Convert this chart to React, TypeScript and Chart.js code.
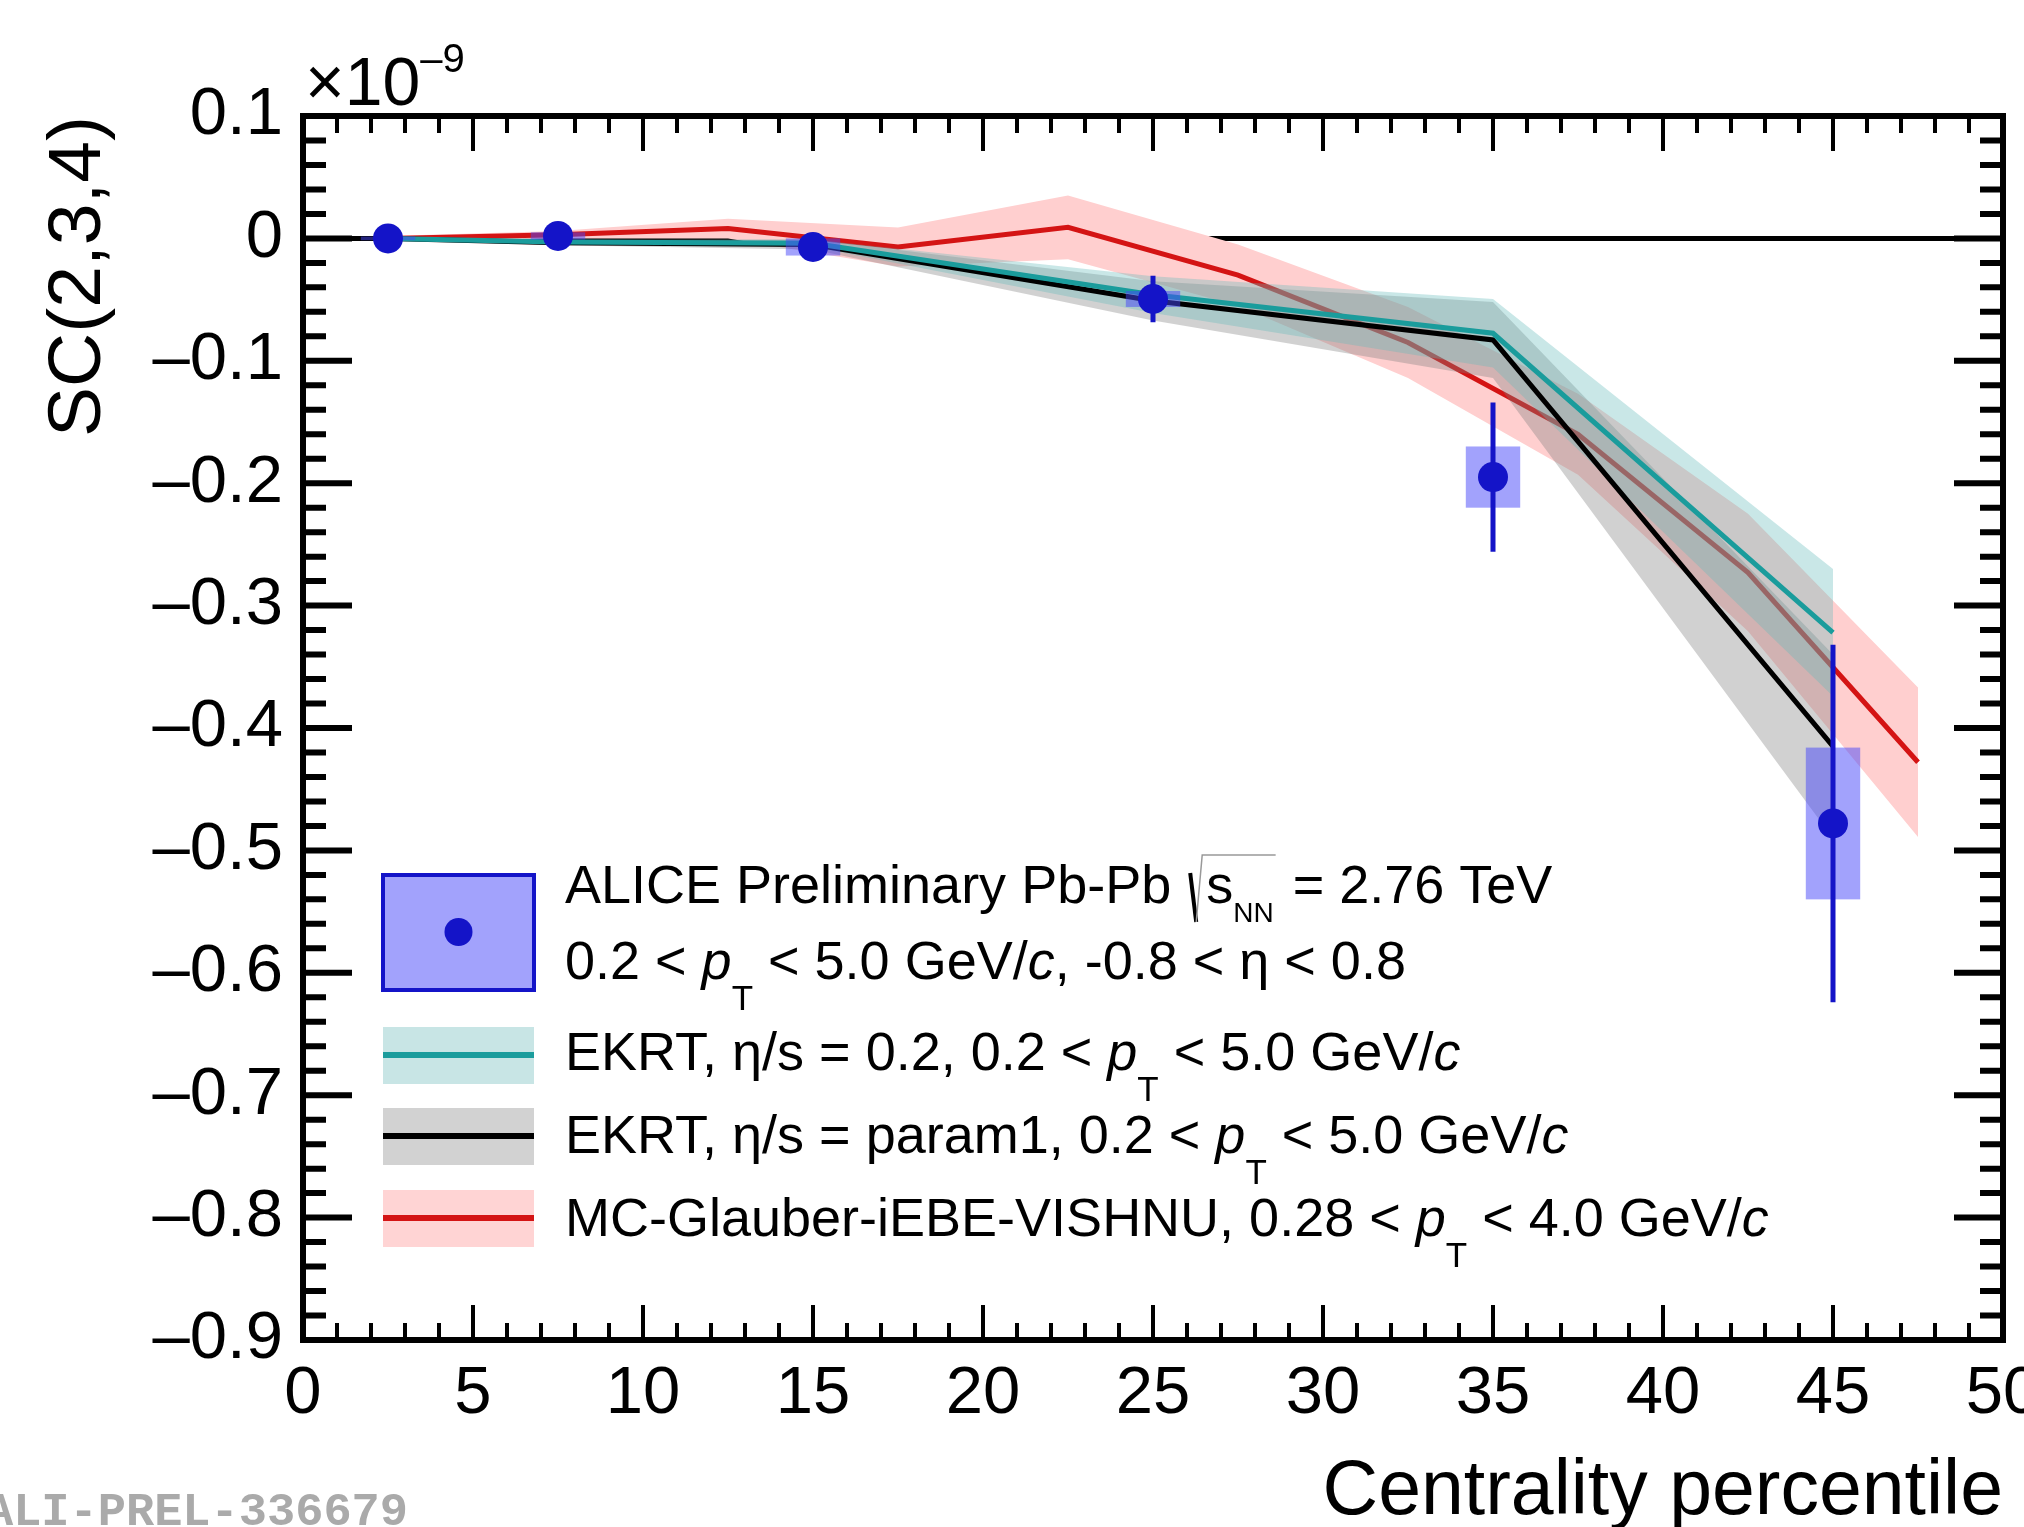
import React, { useEffect, useRef } from 'react';
import { Chart, registerables } from 'chart.js';

Chart.register(...registerables);

const W = 2024;
const H = 1527;
const FONT = '"Liberation Sans", Arial, Helvetica, sans-serif';

// ---- tick labels ----
const xTickValues = [0, 5, 10, 15, 20, 25, 30, 35, 40, 45, 50];
const yTickValues = [0.1, 0, -0.1, -0.2, -0.3, -0.4, -0.5, -0.6, -0.7, -0.8, -0.9];

// ---- ALICE Preliminary, SC(2,3,4) in units of 1e-9 ----
const aliceCentrality = [2.5, 7.5, 15, 25, 35, 45];
const aliceSC = [0.0, 0.002, -0.007, -0.0495, -0.195, -0.478];
const aliceStat = [0.001, 0.002, 0.003, 0.019, 0.061, 0.146];
const aliceSyst = [0.0015, 0.003, 0.007, 0.0065, 0.025, 0.062];
const aliceBinHalf = [0.8, 0.8, 0.8, 0.8, 0.8, 0.8];

// ---- EKRT ----
const ekrtCentrality = [2.5, 7.5, 15, 25, 35, 45];
const ekrt02 = [0.0, -0.003, -0.004, -0.046, -0.0775, -0.322];
const ekrt02Err = [0.001, 0.002, 0.003, 0.015, 0.028, 0.052];
const ekrtParam1 = [0.0, -0.0035, -0.005, -0.051, -0.083, -0.415];
const ekrtParam1Err = [0.001, 0.002, 0.004, 0.016, 0.031, 0.075];

// ---- MC-Glauber-iEBE-VISHNU ----
const vishnuCentrality = [2.5, 7.5, 12.5, 17.5, 22.5, 27.5, 32.5, 37.5, 42.5, 47.5];
const vishnu = [0.0, 0.003, 0.008, -0.007, 0.009, -0.03, -0.085, -0.16, -0.273, -0.428];
const vishnuErr = [0.002, 0.003, 0.008, 0.016, 0.026, 0.025, 0.029, 0.033, 0.048, 0.061];

// ---- colours ----
const BLUE = '#1414c8';
const SYS_FILL = 'rgba(70,70,250,0.5)';
const TEAL = '#1a9c9c';
const TEAL_BAND = 'rgba(100,185,185,0.35)';
const GRAY_BAND = 'rgba(128,128,128,0.36)';
const RED = '#d41414';
const PINK_BAND = 'rgb(255,207,207)';

const pts = (xs: number[], ys: number[]) => xs.map((x, i) => ({ x, y: ys[i] }));
const shifted = (ys: number[], es: number[], s: number) => ys.map((v, i) => v + s * es[i]);

type Seg = { t: string; it?: boolean; size?: number; dy?: number; sqrtStart?: boolean; sqrtEnd?: boolean };

function drawRich(ctx: CanvasRenderingContext2D, x: number, y: number, segs: Seg[], size: number) {
  let cx = x;
  let sqrtX = 0;
  ctx.textAlign = 'left';
  ctx.textBaseline = 'alphabetic';
  ctx.fillStyle = '#000';
  for (const s of segs) {
    if (s.sqrtStart) {
      sqrtX = cx + 4;
      cx += 20;
    }
    const fs = s.size ?? size;
    ctx.font = `${s.it ? 'italic ' : ''}${fs}px ${FONT}`;
    ctx.fillText(s.t, cx, y + (s.dy ?? 0));
    cx += ctx.measureText(s.t).width;
    if (s.sqrtEnd) {
      ctx.save();
      ctx.strokeStyle = '#000';
      ctx.lineWidth = 4;
      ctx.beginPath();
      ctx.moveTo(sqrtX, y - 30);
      ctx.lineTo(sqrtX + 6, y + 19);
      ctx.stroke();
      ctx.lineWidth = 1.5;
      ctx.strokeStyle = '#999';
      ctx.beginPath();
      ctx.moveTo(sqrtX + 6, y + 19);
      ctx.lineTo(sqrtX + 12, y - 48);
      ctx.lineTo(cx + 2, y - 48);
      ctx.stroke();
      ctx.restore();
      cx += 4;
    }
  }
  return cx;
}

const pT = (pre: string, post: string): Seg[] => [
  { t: pre },
  { t: 'p', it: true },
  { t: 'T', size: 35, dy: 31 },
  { t: post },
  { t: 'c', it: true },
];

const legendLines: { y: number; segs: Seg[] }[] = [
  {
    y: 903,
    segs: [
      { t: 'ALICE Preliminary Pb-Pb ' },
      { t: 's', sqrtStart: true },
      { t: 'NN', size: 28, dy: 19, sqrtEnd: true },
      { t: ' = 2.76 TeV' },
    ],
  },
  { y: 979, segs: [...pT('0.2 < ', ' < 5.0 GeV/'), { t: ', -0.8 < η < 0.8' }] },
  { y: 1070, segs: pT('EKRT, η/s = 0.2, 0.2 < ', ' < 5.0 GeV/') },
  { y: 1153, segs: pT('EKRT, η/s = param1, 0.2 < ', ' < 5.0 GeV/') },
  { y: 1236, segs: pT('MC-Glauber-iEBE-VISHNU, 0.28 < ', ' < 4.0 GeV/') },
];

const rootStyle = {
  id: 'rootStyle',
  beforeDatasetDraw(chart: any, args: any) {
    if (args.index !== 0) return;
    const { ctx } = chart;
    const xs = chart.scales.x;
    const ys = chart.scales.y;
    ctx.save();
    ctx.fillStyle = SYS_FILL;
    aliceCentrality.forEach((c, i) => {
      const x0 = xs.getPixelForValue(c - aliceBinHalf[i]);
      const x1 = xs.getPixelForValue(c + aliceBinHalf[i]);
      const y0 = ys.getPixelForValue(aliceSC[i] + aliceSyst[i]);
      const y1 = ys.getPixelForValue(aliceSC[i] - aliceSyst[i]);
      ctx.fillRect(x0, y0, x1 - x0, y1 - y0);
    });
    ctx.strokeStyle = BLUE;
    ctx.lineWidth = 5;
    aliceCentrality.forEach((c, i) => {
      const px = xs.getPixelForValue(c);
      ctx.beginPath();
      ctx.moveTo(px, ys.getPixelForValue(aliceSC[i] + aliceStat[i]));
      ctx.lineTo(px, ys.getPixelForValue(aliceSC[i] - aliceStat[i]));
      ctx.stroke();
    });
    ctx.restore();
  },
  afterDraw(chart: any) {
    const { ctx, chartArea: a } = chart;
    const xs = chart.scales.x;
    const ys = chart.scales.y;
    ctx.save();
    // ticks (inward, all four sides)
    ctx.strokeStyle = '#000';
    ctx.lineCap = 'butt';
    ctx.lineWidth = 4;
    for (let k = 0; k <= 50; k++) {
      const px = xs.getPixelForValue(k);
      const len = k % 5 === 0 ? 35 : 17;
      ctx.beginPath();
      ctx.moveTo(px, a.bottom);
      ctx.lineTo(px, a.bottom - len);
      ctx.moveTo(px, a.top);
      ctx.lineTo(px, a.top + len);
      ctx.stroke();
    }
    ctx.lineWidth = 6;
    for (let k = -45; k <= 5; k++) {
      const py = ys.getPixelForValue(k * 0.02);
      const len = k % 5 === 0 ? 49 : 23;
      ctx.beginPath();
      ctx.moveTo(a.left, py);
      ctx.lineTo(a.left + len, py);
      ctx.moveTo(a.right, py);
      ctx.lineTo(a.right - len, py);
      ctx.stroke();
    }
    // frame
    ctx.lineWidth = 6;
    ctx.strokeRect(a.left, a.top, a.right - a.left, a.bottom - a.top);

    // exponent
    ctx.fillStyle = '#000';
    ctx.textAlign = 'left';
    ctx.textBaseline = 'alphabetic';
    ctx.font = `68px ${FONT}`;
    ctx.fillText('×10', a.left + 2, a.top - 11);
    const w = ctx.measureText('×10').width;
    ctx.font = `40px ${FONT}`;
    ctx.fillText('–9', a.left + 2 + w, a.top - 44);

    // legend samples
    const bx = 383;
    const bw = 151;
    ctx.fillStyle = SYS_FILL;
    ctx.fillRect(bx, 875, bw, 115);
    ctx.strokeStyle = BLUE;
    ctx.lineWidth = 4;
    ctx.strokeRect(bx, 875, bw, 115);
    ctx.fillStyle = BLUE;
    ctx.beginPath();
    ctx.arc(bx + bw / 2, 932, 14, 0, Math.PI * 2);
    ctx.fill();

    const samples = [
      { y: 1027, band: 'rgb(200,229,229)', line: TEAL },
      { y: 1108, band: 'rgb(210,210,210)', line: '#000' },
      { y: 1190, band: 'rgb(255,212,212)', line: RED },
    ];
    samples.forEach((s) => {
      ctx.fillStyle = s.band;
      ctx.fillRect(bx, s.y, bw, 57);
      ctx.strokeStyle = s.line;
      ctx.lineWidth = 6;
      ctx.beginPath();
      ctx.moveTo(bx, s.y + 28);
      ctx.lineTo(bx + bw, s.y + 28);
      ctx.stroke();
    });

    legendLines.forEach((l) => drawRich(ctx, 565, l.y, l.segs, 54));

    // watermark
    ctx.fillStyle = '#aaaaaa';
    ctx.font = `bold 47px "Liberation Mono", "DejaVu Sans Mono", monospace`;
    ctx.textAlign = 'right';
    ctx.textBaseline = 'alphabetic';
    ctx.fillText('ALI-PREL-336679', 408, 1525);
    ctx.restore();
  },
};

export default function App() {
  const ref = useRef<HTMLCanvasElement>(null);

  useEffect(() => {
    if (!ref.current) return;
    const band = (xs: number[], ys: number[], es: number[], color: string, order: number) => [
      {
        data: pts(xs, shifted(ys, es, 1)),
        borderColor: 'rgba(0,0,0,0)',
        borderWidth: 0,
        backgroundColor: color,
        pointRadius: 0,
        fill: '+1',
        order,
      },
      {
        data: pts(xs, shifted(ys, es, -1)),
        borderColor: 'rgba(0,0,0,0)',
        borderWidth: 0,
        pointRadius: 0,
        fill: false,
        order: order + 1,
      },
    ];
    const chart = new Chart(ref.current, {
      type: 'line',
      data: {
        datasets: [
          {
            label: 'ALICE',
            data: pts(aliceCentrality, aliceSC),
            showLine: false,
            pointRadius: 15,
            pointBackgroundColor: BLUE,
            pointBorderWidth: 0,
            order: 0,
          },
          { label: 'EKRT 0.2', data: pts(ekrtCentrality, ekrt02), borderColor: TEAL, borderWidth: 5, pointRadius: 0, order: 10 },
          { label: 'EKRT param1', data: pts(ekrtCentrality, ekrtParam1), borderColor: '#000', borderWidth: 5, pointRadius: 0, order: 20 },
          ...band(ekrtCentrality, ekrt02, ekrt02Err, TEAL_BAND, 30),
          ...band(ekrtCentrality, ekrtParam1, ekrtParam1Err, GRAY_BAND, 40),
          { label: 'VISHNU', data: pts(vishnuCentrality, vishnu), borderColor: RED, borderWidth: 5, pointRadius: 0, order: 50 },
          ...band(vishnuCentrality, vishnu, vishnuErr, PINK_BAND, 60),
          { label: 'zero', data: pts([0, 50], [0, 0]), borderColor: '#000', borderWidth: 5, pointRadius: 0, order: 100 },
        ] as any,
      },
      options: {
        responsive: false,
        devicePixelRatio: 1,
        animation: false,
        layout: { autoPadding: false, padding: { top: 116, right: 21, left: 0, bottom: 0 } },
        plugins: { legend: { display: false }, tooltip: { enabled: false } },
        elements: { line: { tension: 0 } },
        scales: {
          x: {
            type: 'linear',
            min: 0,
            max: 50,
            grid: { display: false, drawTicks: false },
            border: { display: false },
            afterBuildTicks: (s: any) => {
              s.ticks = xTickValues.map((v) => ({ value: v }));
            },
            afterFit: (s: any) => {
              s.height = 187;
              s.paddingLeft = 0;
              s.paddingRight = 0;
            },
            ticks: {
              autoSkip: false,
              maxRotation: 0,
              padding: 14,
              color: '#000',
              font: { family: FONT, size: 67 },
              callback: (v: any) => String(v),
            },
            title: {
              display: true,
              text: 'Centrality percentile',
              align: 'end',
              color: '#000',
              font: { family: FONT, size: 77, lineHeight: 0.9 },
              padding: { top: 0, bottom: 0 },
            },
          },
          y: {
            type: 'linear',
            min: -0.9,
            max: 0.1,
            grid: { display: false, drawTicks: false },
            border: { display: false },
            afterBuildTicks: (s: any) => {
              s.ticks = yTickValues.map((v) => ({ value: v }));
            },
            afterFit: (s: any) => {
              s.width = 303;
              s.paddingTop = 0;
              s.paddingBottom = 0;
            },
            ticks: {
              autoSkip: false,
              padding: 20,
              color: '#000',
              font: { family: FONT, size: 67 },
              callback: (v: any) => {
                const r = Math.round(Number(v) * 10) / 10;
                if (r === 0) return '0';
                return (r < 0 ? '–' : '') + Math.abs(r).toFixed(1);
              },
            },
            title: {
              display: true,
              text: 'SC(2,3,4)',
              align: 'end',
              color: '#000',
              font: { family: FONT, size: 75, lineHeight: 1 },
              padding: { top: 42, bottom: 0 },
            },
          },
        },
      } as any,
      plugins: [rootStyle],
    });
    return () => chart.destroy();
  }, []);

  return (
    <div style={{ position: 'fixed', left: 0, top: 0, width: W, height: H, background: '#fff' }}>
      <canvas ref={ref} width={W} height={H} style={{ width: W, height: H, display: 'block' }} />
    </div>
  );
}
